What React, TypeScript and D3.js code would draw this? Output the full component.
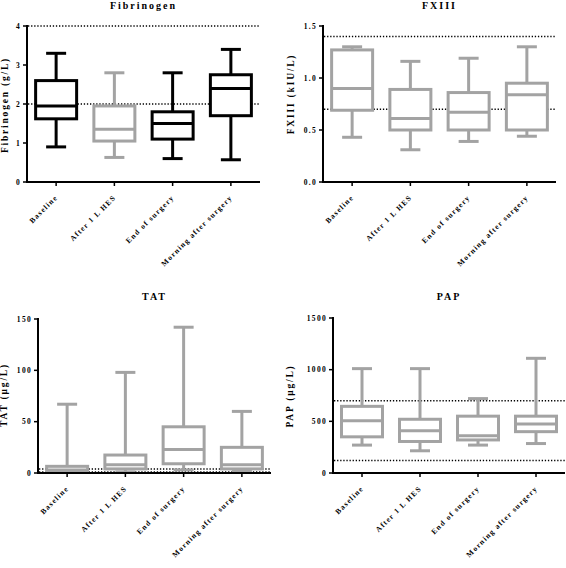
import React from "react";
import * as d3 from "d3";

const categories = ["Baseline", "After 1 L HES", "End of surgery", "Morning after surgery"];

// Fibrinogen (g/L)
const fibMin = [0.9, 0.63, 0.6, 0.57];
const fibQ1 = [1.62, 1.05, 1.1, 1.7];
const fibMed = [1.95, 1.35, 1.5, 2.4];
const fibQ3 = [2.6, 1.95, 1.8, 2.75];
const fibMax = [3.3, 2.8, 2.8, 3.4];
const fibRef = [2, 4];
const fibTicks = [0, 1, 2, 3, 4];

// FXIII (kIU/L)
const fxMin = [0.43, 0.31, 0.39, 0.44];
const fxQ1 = [0.69, 0.5, 0.5, 0.5];
const fxMed = [0.9, 0.61, 0.67, 0.84];
const fxQ3 = [1.27, 0.89, 0.86, 0.95];
const fxMax = [1.3, 1.16, 1.19, 1.3];
const fxRef = [0.7, 1.4];
const fxTicks = [0, 0.5, 1.0, 1.5];

// TAT (µg/L)
const tatMin = [0.5, 1, 3, 2];
const tatQ1 = [1.5, 4, 9, 4];
const tatMed = [3, 8, 23, 8];
const tatQ3 = [6.5, 17.5, 45, 25];
const tatMax = [67, 98, 142, 60];
const tatRef = [1, 4];
const tatTicks = [0, 50, 100, 150];

// PAP (µg/L)
const papMin = [270, 215, 270, 285];
const papQ1 = [350, 305, 320, 400];
const papMed = [505, 410, 360, 475];
const papQ3 = [645, 520, 550, 550];
const papMax = [1010, 1010, 720, 1110];
const papRef = [120, 700];
const papTicks = [0, 500, 1000, 1500];

const BLACK = "#000";
const GRAY = "#a3a3a3";
const FONT = "'Liberation Serif', 'Times New Roman', serif";

type PanelProps = {
  title: string;
  yLabel: string;
  x0: number; x1: number; yTop: number; yBot: number;
  yMax: number;
  ticks: number[];
  fmt: (v: number) => string;
  mins: number[]; q1s: number[]; meds: number[]; q3s: number[]; maxs: number[];
  refs: number[];
  colors: string[];
  titleY: number;
  yLabelX: number; yLabelY: number;
};

function Panel(p: PanelProps) {
  const x = d3.scaleBand<string>().domain(categories).range([p.x0, p.x1]);
  const y = d3.scaleLinear().domain([0, p.yMax]).range([p.yBot, p.yTop]);
  const bw = 41;
  const cw = 20;
  return (
    <g>
      <text x={(p.x0 + p.x1) / 2} y={p.titleY} textAnchor="middle" fontFamily={FONT} fontWeight="bold" fontSize={10} letterSpacing={2}>{p.title}</text>
      <text transform={`translate(${p.yLabelX},${p.yLabelY}) rotate(-90)`} textAnchor="middle" dominantBaseline="middle" fontFamily={FONT} fontWeight="bold" fontSize={9.5} letterSpacing={1.8}>{p.yLabel}</text>
      {p.refs.map((r, i) => (
        <line key={"r" + i} x1={p.x0 + 1} x2={p.x1} y1={y(r)} y2={y(r)} stroke="#000" strokeWidth={1.5} strokeDasharray="1.3,1.8" />
      ))}
      {categories.map((c, i) => {
        const cx = (x(c) as number) + x.bandwidth() / 2;
        const col = p.colors[i];
        return (
          <g key={c} stroke={col} strokeWidth={3} fill="none">
            <line x1={cx} x2={cx} y1={y(p.maxs[i])} y2={y(p.q3s[i])} />
            <line x1={cx} x2={cx} y1={y(p.q1s[i])} y2={y(p.mins[i])} />
            <line x1={cx - cw / 2} x2={cx + cw / 2} y1={y(p.maxs[i])} y2={y(p.maxs[i])} />
            <line x1={cx - cw / 2} x2={cx + cw / 2} y1={y(p.mins[i])} y2={y(p.mins[i])} />
            <rect x={cx - bw / 2} y={y(p.q3s[i])} width={bw} height={Math.max(0.5, y(p.q1s[i]) - y(p.q3s[i]))} fill="#fff" />
            <line x1={cx - bw / 2} x2={cx + bw / 2} y1={y(p.meds[i])} y2={y(p.meds[i])} />
          </g>
        );
      })}
      {/* axes */}
      <line x1={p.x0} x2={p.x0} y1={p.yTop - 1} y2={p.yBot + 1} stroke="#000" strokeWidth={2} />
      <line x1={p.x0 - 1} x2={p.x1} y1={p.yBot} y2={p.yBot} stroke="#000" strokeWidth={2} />
      {p.ticks.map((t) => (
        <g key={"t" + t}>
          <line x1={p.x0 - 4} x2={p.x0} y1={y(t)} y2={y(t)} stroke="#000" strokeWidth={1.5} />
          <text x={p.x0 - 6} y={y(t)} dy="0.35em" textAnchor="end" fontFamily={FONT} fontWeight="bold" fontSize={7.5} letterSpacing={1.3}>{p.fmt(t)}</text>
        </g>
      ))}
      {categories.map((c) => {
        const cx = (x(c) as number) + x.bandwidth() / 2;
        return (
          <g key={"x" + c}>
            <line x1={cx} x2={cx} y1={p.yBot} y2={p.yBot + 4} stroke="#000" strokeWidth={1.5} />
            <text transform={`translate(${cx + 2},${p.yBot + 16}) rotate(-45)`} textAnchor="end" fontFamily={FONT} fontWeight="bold" fontSize={7.5} letterSpacing={1.2}>{c}</text>
          </g>
        );
      })}
    </g>
  );
}

export default function App() {
  const f0 = d3.format("d");
  const f1 = d3.format(".1f");
  return (
    <svg width={566} height={568} style={{ position: "absolute", left: 0, top: 0, background: "#fff" }}>
      <rect width={566} height={568} fill="#fff" />
      <Panel title="Fibrinogen" yLabel="Fibrinogen (g/L)" x0={27} x1={260} yTop={26} yBot={182} yMax={4} ticks={fibTicks} fmt={f0}
        mins={fibMin} q1s={fibQ1} meds={fibMed} q3s={fibQ3} maxs={fibMax} refs={fibRef}
        colors={[BLACK, GRAY, BLACK, BLACK]} titleY={9} yLabelX={6} yLabelY={105} />
      <Panel title="FXIII" yLabel="FXIII (kIU/L)" x0={323} x1={556} yTop={26} yBot={182} yMax={1.5} ticks={fxTicks} fmt={f1}
        mins={fxMin} q1s={fxQ1} meds={fxMed} q3s={fxQ3} maxs={fxMax} refs={fxRef}
        colors={[GRAY, GRAY, GRAY, GRAY]} titleY={9} yLabelX={292} yLabelY={94} />
      <Panel title="TAT" yLabel="TAT (µg/L)" x0={38} x1={271} yTop={319} yBot={473} yMax={150} ticks={tatTicks} fmt={f0}
        mins={tatMin} q1s={tatQ1} meds={tatMed} q3s={tatQ3} maxs={tatMax} refs={tatRef}
        colors={[GRAY, GRAY, GRAY, GRAY]} titleY={300} yLabelX={5} yLabelY={395} />
      <Panel title="PAP" yLabel="PAP (µg/L)" x0={333} x1={565} yTop={318} yBot={473} yMax={1500} ticks={papTicks} fmt={f0}
        mins={papMin} q1s={papQ1} meds={papMed} q3s={papQ3} maxs={papMax} refs={papRef}
        colors={[GRAY, GRAY, GRAY, GRAY]} titleY={300} yLabelX={291} yLabelY={396} />
    </svg>
  );
}
